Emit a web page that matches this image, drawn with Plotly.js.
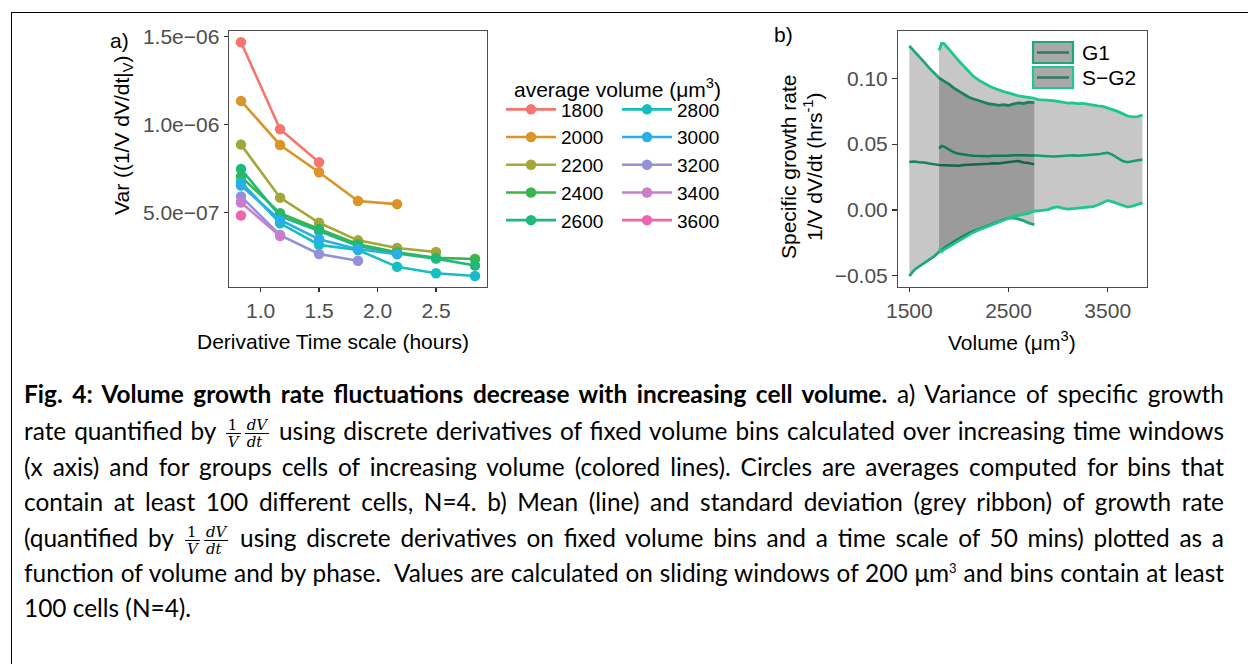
<!DOCTYPE html>
<html><head><meta charset="utf-8">
<script src="https://cdn.plot.ly/plotly-3.0.1.min.js"></script>
<style>
html,body{margin:0;padding:0;background:#fff;width:1248px;height:664px;overflow:hidden;}
#frame{position:absolute;left:11px;top:12px;width:1400px;height:800px;border-left:1.3px solid #000;border-top:1.3px solid #000;box-sizing:border-box;}
#chart{position:absolute;left:0;top:0;width:1248px;height:360px;}
#cap{position:absolute;left:24px;top:0;width:1200px;font-family:Lato,'Open Sans',sans-serif;color:#000;font-size:20px;}
.ln{position:absolute;left:0;width:1200px;height:26px;line-height:26px;font-size:20px;}
.j{text-align:justify;text-align-last:justify;}
.fr{display:inline-flex;flex-direction:column;vertical-align:middle;font-family:'DejaVu Serif','Liberation Serif',serif;font-style:italic;font-size:15px;line-height:16px;text-align:center;margin:0 2px;}
.fr span{display:block;padding:0 2px;}
.fr .n{border-bottom:1.3px solid #000;}
.up{font-style:normal;}
.sp{font-size:13px;line-height:0;vertical-align:super;}
</style></head>
<body>
<div id="frame"></div>
<div id="chart"></div>
<div id="cap">
<div class="ln j" style="top:381px"><b>Fig. 4: Volume growth rate fluctuations decrease with increasing cell volume.</b> a) Variance of specific growth</div>
<div class="ln j" style="top:417px">rate quantified by <span class="fr"><span class="n up" style="font-size:15px">1</span><span style="font-size:15px">V</span></span><span class="fr"><span class="n" style="font-size:15px">dV</span><span style="font-size:15px">dt</span></span> using discrete derivatives of fixed volume bins calculated over increasing time windows</div>
<div class="ln j" style="top:454px">(x axis) and for groups cells of increasing volume (colored lines). Circles are averages computed for bins that</div>
<div class="ln j" style="top:489px">contain at least 100 different cells, N=4. b) Mean (line) and standard deviation (grey ribbon) of growth rate</div>
<div class="ln j" style="top:524px">(quantified by <span class="fr"><span class="n up" style="font-size:15px">1</span><span style="font-size:15px">V</span></span><span class="fr"><span class="n" style="font-size:15px">dV</span><span style="font-size:15px">dt</span></span> using discrete derivatives on fixed volume bins and a time scale of 50 mins) plotted as a</div>
<div class="ln j" style="top:560px">function of volume and by phase.&nbsp; Values are calculated on sliding windows of 200 μm<span class="sp">3</span> and bins contain at least</div>
<div class="ln" style="top:595px">100 cells (N=4).</div>
</div>
<script>
// ---------- Panel a data ----------
const timeScale = [0.833, 1.167, 1.5, 1.833, 2.167, 2.5, 2.833];
const volumeLabels = ['1800','2000','2200','2400','2600','2800','3000','3200','3400','3600'];
const var1800 = [1.468e-6, 0.973e-6, 0.785e-6];
const var2000 = [1.134e-6, 0.883e-6, 0.728e-6, 0.564e-6, 0.546e-6];
const var2200 = [0.885e-6, 0.583e-6, 0.440e-6, 0.340e-6, 0.296e-6, 0.274e-6];
const var2400 = [0.703e-6, 0.494e-6, 0.405e-6, 0.318e-6, 0.272e-6, 0.240e-6, 0.234e-6];
const var2600 = [0.746e-6, 0.478e-6, 0.393e-6, 0.308e-6, 0.265e-6, 0.236e-6, 0.197e-6];
const var2800 = [0.672e-6, 0.437e-6, 0.314e-6, 0.285e-6, 0.189e-6, 0.153e-6, 0.137e-6];
const var3000 = [0.652e-6, 0.456e-6, 0.346e-6, 0.289e-6, 0.261e-6];
const var3200 = [0.590e-6, 0.370e-6, 0.262e-6, 0.224e-6];
const var3400 = [0.555e-6, 0.365e-6];
const var3600 = [0.481e-6];
const yTickVals = [5e-7, 1e-6, 1.5e-6];
const yTickText = ['5.0e\u221207', '1.0e\u221206', '1.5e\u221206'];
const xTickVals = [1.0, 1.5, 2.0, 2.5];
const xTickText = ['1.0', '1.5', '2.0', '2.5'];

// ---------- Panel b data ----------
const g1Volume = [1500,1550,1600,1650,1700,1750,1800,1850,1900,1950,2000,2050,2100,2150,2200,2250,2300,2350,2400,2450,2500,2550,2600,2650,2700,2760];
const g1Mean  = [0.0365,0.0368,0.0362,0.0360,0.0352,0.0346,0.0342,0.0340,0.0337,0.0339,0.0336,0.0341,0.0343,0.0340,0.0346,0.0344,0.0350,0.0354,0.0352,0.0358,0.0362,0.0368,0.0372,0.0360,0.0357,0.0346];
const g1Upper = [0.1245,0.1205,0.1170,0.1122,0.1078,0.1040,0.1002,0.0978,0.0955,0.0925,0.0902,0.0878,0.0855,0.0842,0.0828,0.0818,0.0806,0.0801,0.0794,0.0799,0.0793,0.0805,0.0812,0.0808,0.0818,0.0815];
const g1Lower = [-0.0501,-0.0455,-0.0428,-0.0402,-0.0378,-0.0352,-0.0318,-0.0290,-0.0265,-0.0240,-0.0218,-0.0195,-0.0176,-0.0160,-0.0146,-0.0130,-0.0112,-0.0098,-0.0085,-0.0074,-0.0062,-0.0060,-0.0070,-0.0080,-0.0098,-0.0112];
const sg2Volume = [1800,1825,1850,1875,1900,1950,2000,2050,2100,2150,2200,2250,2300,2350,2400,2450,2500,2550,2600,2650,2700,2750,2800,2850,2900,2950,3000,3050,3100,3150,3200,3250,3300,3350,3400,3450,3500,3550,3600,3650,3700,3750,3800,3850];
const sg2Mean  = [0.0465,0.0486,0.0481,0.0470,0.0457,0.0438,0.0426,0.0418,0.0415,0.0412,0.0410,0.0412,0.0408,0.0411,0.0410,0.0413,0.0411,0.0415,0.0418,0.0416,0.0414,0.0416,0.0413,0.0410,0.0407,0.0405,0.0408,0.0410,0.0412,0.0415,0.0411,0.0413,0.0417,0.0420,0.0422,0.0428,0.0434,0.0418,0.0396,0.0372,0.0363,0.0371,0.0377,0.0381];
const sg2Upper = [0.1210,0.1265,0.1262,0.1242,0.1222,0.1175,0.1130,0.1088,0.1048,0.1012,0.0985,0.0962,0.0943,0.0925,0.0910,0.0898,0.0888,0.0874,0.0866,0.0861,0.0857,0.0848,0.0838,0.0836,0.0831,0.0829,0.0824,0.0816,0.0811,0.0813,0.0807,0.0809,0.0801,0.0796,0.0790,0.0786,0.0774,0.0761,0.0748,0.0731,0.0713,0.0707,0.0709,0.0721];
const sg2Lower = [-0.0290,-0.0316,-0.0300,-0.0289,-0.0273,-0.0254,-0.0231,-0.0210,-0.0189,-0.0168,-0.0151,-0.0135,-0.0121,-0.0107,-0.0092,-0.0078,-0.0063,-0.0049,-0.0041,-0.0035,-0.0026,-0.0011,-0.0008,-0.0002,0.0003,0.0018,0.0024,0.0012,0.0006,0.0010,0.0013,0.0018,0.0022,0.0026,0.0038,0.0055,0.0072,0.0061,0.0047,0.0031,0.0022,0.0030,0.0043,0.0054];
const phaseLabels = ['G1', 'S\u2212G2'];
const bTickValsY = [-0.05, 0, 0.05, 0.10];
const bTickTextY = ['\u22120.05', '0.00', '0.05', '0.10'];
const bTickValsX = [1500, 2500, 3500];

// ---------- styles ----------
const varSeries = [var1800,var2000,var2200,var2400,var2600,var2800,var3000,var3200,var3400,var3600];
const volColors = ['#F4766E','#DA9427','#A5A63A','#3BB44A','#1FB97D','#16BDC2','#2BAEE8','#9291DA','#C97DCB','#F064AE'];
const g1Color = '#23A677', sg2Color = '#1CC98C';
const ribbonFill = 'rgba(0,0,0,0.22)';
const FONT = 'Liberation Sans, Arial, Helvetica, sans-serif';
const W = 1248, H = 360;
const px = v => v / W, py = v => 1 - v / H;

const traces = [];
volumeLabels.forEach((lab, i) => {
  traces.push({
    type: 'scatter', mode: 'lines+markers', name: lab,
    x: timeScale.slice(0, varSeries[i].length), y: varSeries[i],
    line: {color: volColors[i], width: 2.6}, marker: {color: volColors[i], size: 10.5},
    xaxis: 'x', yaxis: 'y', legend: i < 5 ? 'legend' : 'legend2', hoverinfo: 'skip'
  });
});
const lineB = (x, y, color, w) => ({type: 'scatter', mode: 'lines', x: x, y: y, line: {color: color, width: w}, xaxis: 'x2', yaxis: 'y2', showlegend: false, hoverinfo: 'skip'});
const ribbon = (x, up, lo) => ({type: 'scatter', mode: 'lines', x: x.concat(x.slice().reverse()), y: up.concat(lo.slice().reverse()), fill: 'toself', fillcolor: ribbonFill, line: {width: 0}, xaxis: 'x2', yaxis: 'y2', showlegend: false, hoverinfo: 'skip'});
traces.push(lineB(g1Volume, g1Mean, g1Color, 2.5));
traces.push(lineB(sg2Volume, sg2Mean, sg2Color, 2.5));
traces.push(ribbon(g1Volume, g1Upper, g1Lower));
traces.push(lineB(g1Volume, g1Upper, g1Color, 2.8));
traces.push(lineB(g1Volume, g1Lower, g1Color, 2.8));
traces.push(ribbon(sg2Volume, sg2Upper, sg2Lower));
traces.push(lineB(sg2Volume, sg2Upper, sg2Color, 2.8));
traces.push(lineB(sg2Volume, sg2Lower, sg2Color, 2.8));

const axBase = {showline: true, mirror: true, linecolor: '#4d4d4d', linewidth: 1.2, ticks: 'outside', ticklen: 4.5, tickwidth: 1.1, tickcolor: '#333', showgrid: false, zeroline: false, tickfont: {family: FONT, size: 21, color: '#4d4d4d'}, tickmode: 'array'};
const yDom = [py(286.7), py(31)];
const annFont = {family: FONT, size: 21, color: '#000'};
const ann = (x, y, text, extra) => Object.assign({xref: 'paper', yref: 'paper', x: px(x), y: py(y), text: text, showarrow: false, font: annFont, xanchor: 'center', yanchor: 'middle'}, extra || {});
const legFont = {family: FONT, size: 19, color: '#000'};

const layout = {
  width: W, height: H, margin: {l: 0, r: 0, t: 0, b: 0},
  paper_bgcolor: 'rgba(0,0,0,0)', plot_bgcolor: '#fff', showlegend: true,
  xaxis: Object.assign({}, axBase, {domain: [px(229.3), px(486.7)], range: [0.733, 2.933], tickvals: xTickVals, ticktext: xTickText, anchor: 'y'}),
  yaxis: Object.assign({}, axBase, {domain: yDom, range: [0.076e-6, 1.532e-6], tickvals: yTickVals, ticktext: yTickText, anchor: 'x'}),
  xaxis2: Object.assign({}, axBase, {domain: [px(897.7), px(1146.7)], range: [1383, 3893], tickvals: bTickValsX, ticktext: bTickValsX.map(String), anchor: 'y2'}),
  yaxis2: Object.assign({}, axBase, {domain: yDom, range: [-0.0582, 0.1358], tickvals: bTickValsY, ticktext: bTickTextY, anchor: 'x2'}),
  legend: {x: px(501), xanchor: 'left', y: py(90.5), yanchor: 'top', font: legFont, bgcolor: 'rgba(0,0,0,0)', itemwidth: 50, tracegroupgap: 0},
  legend2: {x: px(617), xanchor: 'left', y: py(90.5), yanchor: 'top', font: legFont, bgcolor: 'rgba(0,0,0,0)', itemwidth: 50, tracegroupgap: 0},
  annotations: [
    ann(119, 40, 'a)'),
    ann(783.5, 34, 'b)'),
    ann(123, 135, 'Var ((1/V dV/dt|<sub>V</sub>)', {textangle: -90}),
    ann(332.5, 341, 'Derivative Time scale (hours)'),
    ann(617, 88, 'average volume (μm<sup>3</sup>)'),
    ann(1011.7, 341, 'Volume (μm<sup>3</sup>)'),
    ann(788.5, 167.5, 'Specific growth rate', {textangle: -90}),
    ann(812.5, 167.5, '1/V dV/dt (hrs<sup>-1</sup>)', {textangle: -90}),
    ann(1080, 52.5, phaseLabels[0], {xanchor: 'left'}),
    ann(1080, 77.5, phaseLabels[1], {xanchor: 'left'})
  ],
  shapes: [
    {type: 'rect', xref: 'paper', yref: 'paper', x0: px(1033), x1: px(1073), y0: py(63), y1: py(42), fillcolor: '#a9a9a9', line: {color: g1Color, width: 2.2}},
    {type: 'line', xref: 'paper', yref: 'paper', x0: px(1037), x1: px(1069), y0: py(52.5), y1: py(52.5), line: {color: '#2f7a5b', width: 2.5}},
    {type: 'rect', xref: 'paper', yref: 'paper', x0: px(1033), x1: px(1073), y0: py(88), y1: py(67), fillcolor: '#a9a9a9', line: {color: sg2Color, width: 2.2}},
    {type: 'line', xref: 'paper', yref: 'paper', x0: px(1037), x1: px(1069), y0: py(77.5), y1: py(77.5), line: {color: '#2f7a5b', width: 2.5}}
  ]
};
Plotly.newPlot('chart', traces, layout, {staticPlot: true, displayModeBar: false});

// fit caption font so justified lines do not wrap
(function () {
  const cap = document.getElementById('cap');
  const all = Array.from(cap.querySelectorAll('.ln'));
  const lines = Array.from(cap.querySelectorAll('.j'));
  let maxW = 0;
  lines.forEach(el => {
    const s = el.style;
    s.width = 'auto'; s.whiteSpace = 'nowrap'; s.textAlignLast = 'auto'; s.textAlign = 'left'; s.display = 'inline-block';
    maxW = Math.max(maxW, el.getBoundingClientRect().width);
    s.width = ''; s.whiteSpace = ''; s.textAlignLast = ''; s.textAlign = ''; s.display = '';
  });
  if (maxW > 0) {
    const fs = (20 * 1190 / maxW).toFixed(2) + 'px';
    cap.style.fontSize = fs;
    all.forEach(el => { el.style.fontSize = fs; });
  }
})();
</script>
</body></html>
